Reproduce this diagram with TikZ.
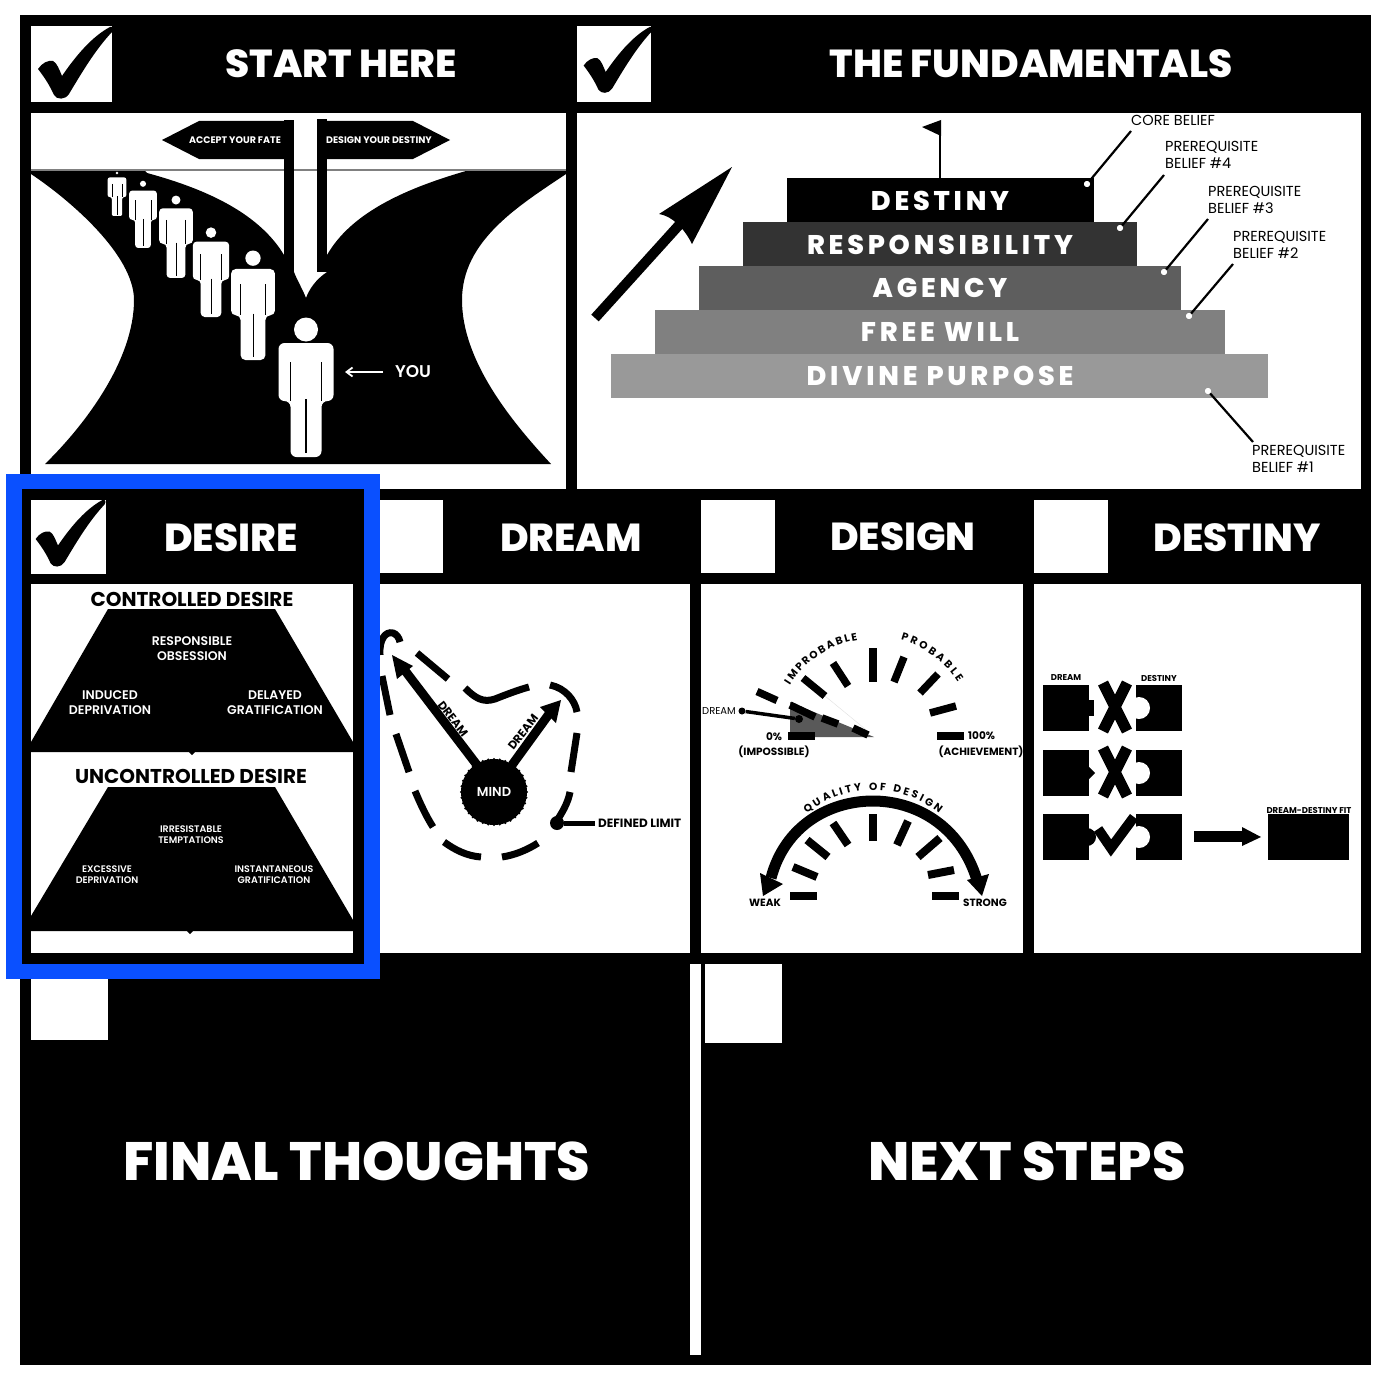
\documentclass[tikz,border=0pt]{standalone}
\usepackage{fontspec}
\usetikzlibrary{decorations.text,arrows.meta}
\setmainfont{Poppins}
\newfontfamily\popx{Poppins ExtraBold}
\newfontfamily\pops{Poppins SemiBold}
\newfontfamily\popb{Poppins}[UprightFont=* Bold]
\newfontfamily\popw{Poppins ExtraBold}[LetterSpace=14]
\definecolor{bluef}{HTML}{0A50FF}
\tikzset{
 wh/.style={fill=white,draw=none},
 bk/.style={fill=black,draw=none},
 headtxt/.style={text=white,font=\popx\fontsize{39}{39}\selectfont,inner sep=0pt},
 bigtxt/.style={text=white,font=\popx\fontsize{54}{54}\selectfont,inner sep=0pt},
 steptxt/.style={text=white,font=\popw\fontsize{27}{27}\selectfont,inner sep=0pt},
 thin lbl/.style={text=black,font=\fontsize{14.5}{17.5}\selectfont,inner sep=0pt,anchor=north west,align=left},
 lead/.style={draw=black,line width=2.2pt},
 leaddot/.style={fill=white,draw=none,circle,minimum size=6pt,inner sep=0pt},
 wsub/.style={text=white,font=\pops\fontsize{12.5}{15}\selectfont,inner sep=0pt,align=center},
 wsmall/.style={text=white,font=\pops\fontsize{9.5}{11}\selectfont,inner sep=0pt,align=center},
 btitle/.style={text=black,font=\popb\fontsize{20}{20}\selectfont,inner sep=0pt},
 blab/.style={text=black,font=\popb\fontsize{10.5}{11}\selectfont,inner sep=0pt},
 tick/.style={draw=black,line width=8pt},
 loopd/.style={draw=black,line width=7pt},
}
\newcommand{\checkmk}[3]{%
 \begin{scope}[shift={(#1,#2)},scale=#3]
  \fill[black] (5,43) .. controls (9,37) and (15,34) .. (20,35) .. controls (24,37) and (26,43) .. (29,50)
   .. controls (44,28) and (60,10) .. (77,1) .. controls (80,0) and (81,3) .. (79,6)
   .. controls (62,24) and (48,48) .. (36,68) .. controls (32,74) and (24,74) .. (21,69)
   .. controls (17,60) and (12,52) .. (5,43) -- cycle;
 \end{scope}}
\newcommand{\persona}[3]{%
 \pgfmathsetmacro\sc{#3/139}\pgfmathsetmacro\rr{6*\sc}\pgfmathsetmacro\lw{1.1*\sc}
 \begin{scope}[shift={(#1,#2)},scale=\sc]
  \fill[white] (0pt,11.5) circle[radius=12*\sc pt];
  \fill[white,rounded corners=\rr pt] (-27.5,25) -- (-27.5,83) -- (-15.5,83) -- (-15.5,139) -- (15.5,139) -- (15.5,83) -- (27.5,83) -- (27.5,25) -- cycle;
  \draw[black,line width=\lw pt] (-15.5,44) -- (-15.5,83) (15.5,44) -- (15.5,83) (0,81) -- (0,135);
 \end{scope}}
\begin{document}
\begin{tikzpicture}[x=1pt,y=-1pt]
\useasboundingbox (0,0) rectangle (1386,1386);
\fill[white] (0,0) rectangle (1386,1386);
\fill[black] (20,15) rectangle (1371,1365);
% top row
\fill[wh] (31,26) rectangle (112,102);
\fill[wh] (577,26) rectangle (651,102);
\fill[wh] (31,113) rectangle (566,489);
\fill[wh] (577,113) rectangle (1361,489);
\checkmk{33}{26}{1}
\checkmk{579}{26}{0.92}
\node[headtxt] (t1) at (341,64) {START HERE};
\node[headtxt] (t2) at (1031,64) {THE FUNDAMENTALS};
% road
\draw[gray,line width=1.2pt] (31,170) -- (566,170);
\fill[black] (31,174) .. controls (70,200) and (134,255) .. (134,300) .. controls (134,360) and (85,425) .. (45,464)
 -- (551,464) .. controls (510,420) and (462,360) .. (462,300) .. controls (462,240) and (520,205) .. (566,174)
 -- (566,171) -- (466,171) .. controls (400,190) and (350,215) .. (327,255) -- (327,272) .. controls (315,280) and (309,290) .. (306,298)
 .. controls (303,290) and (297,280) .. (294,272) -- (284,255) .. controls (260,215) and (210,190) .. (147,173) -- (145,171) -- (31,171) -- cycle;
\fill[black] (284,120) rectangle (294,272);
\fill[black] (317,119) rectangle (327,272);
\fill[bk] (162,140) -- (199,121) -- (284,121) -- (284,159) -- (199,159) -- cycle;
\fill[bk] (327,121) -- (413,121) -- (450,140) -- (413,159) -- (327,159) -- cycle;
\node[text=white,font=\popb\fontsize{9.5}{10}\selectfont,inner sep=0pt] (s1) at (235,140) {ACCEPT YOUR FATE};
\node[text=white,font=\popb\fontsize{9.5}{10}\selectfont,inner sep=0pt] (s2) at (379,140) {DESIGN YOUR DESTINY};
\persona{117}{169}{47}
\persona{143}{178}{70}
\persona{176}{193}{85}
\persona{211}{225}{92}
\persona{253}{249}{111}
\persona{306}{318}{139}
\node[text=white,font=\pops\fontsize{17}{17}\selectfont,inner sep=0pt] (you) at (413,372) {YOU};
\coordinate (youtail) at (383,372);
\coordinate (youtip) at (345,372);
\draw[white,line width=1.8pt,-{Straight Barb[length=6pt,width=9pt]}] (youtail) -- (youtip);
% fundamentals
\draw[black,line width=2.5pt] (940,122) -- (940,178);
\fill[black] (941,120) -- (922,127) -- (941,136) -- cycle;
\fill[black] (787,178) rectangle (1094,222);
\fill[black!80] (743,222) rectangle (1137,266);
\fill[black!63] (699,266) rectangle (1181,310);
\fill[black!50] (655,310) rectangle (1225,354);
\fill[black!40] (611,354) rectangle (1268,398);
\node[steptxt] (f1) at (940,201) {DESTINY};
\node[steptxt] (f2) at (940,245) {RESPONSIBILITY};
\node[steptxt] (f3) at (940,288) {AGENCY};
\node[steptxt] (f4) at (940,332) {FREE WILL};
\node[steptxt] (f5) at (940,376) {DIVINE PURPOSE};
\draw[black,line width=10pt] (595,318) -- (680,224);
\fill[black] (732,167) -- (659,214) .. controls (672,216) and (684,228) .. (692,244) -- cycle;
\node[leaddot] (d1) at (1087,184) {};
\node[leaddot] (d2) at (1120,228) {};
\node[leaddot] (d3) at (1164,272) {};
\node[leaddot] (d4) at (1189,316) {};
\node[leaddot] (d5) at (1208,391) {};
\node[thin lbl] (l1) at (1131,115) {CORE BELIEF};
\node[thin lbl] (l2) at (1165,141) {PREREQUISITE\\BELIEF \#4};
\node[thin lbl] (l3) at (1208,186) {PREREQUISITE\\BELIEF \#3};
\node[thin lbl] (l4) at (1233,231) {PREREQUISITE\\BELIEF \#2};
\node[thin lbl] (l5) at (1252,445) {PREREQUISITE\\BELIEF \#1};
\coordinate (e1) at (1131,131);\coordinate (e2) at (1164,175);\coordinate (e3) at (1208,219);\coordinate (e4) at (1233,264);\coordinate (e5) at (1253,442);
\draw[lead] (d1) -- (e1); \draw[lead] (d2) -- (e2); \draw[lead] (d3) -- (e3); \draw[lead] (d4) -- (e4); \draw[lead] (d5) -- (e5);
\node[leaddot] at (1087,184) {};\node[leaddot] at (1120,228) {};\node[leaddot] at (1164,272) {};\node[leaddot] at (1189,316) {};\node[leaddot] at (1208,391) {};
% row 2 boxes and panels
\fill[wh] (370,500) rectangle (443,573);
\fill[wh] (701,500) rectangle (775,573);
\fill[wh] (1034,500) rectangle (1108,573);
\fill[wh] (370,584) rectangle (690,953);
\fill[wh] (701,584) rectangle (1023,953);
\fill[wh] (1034,584) rectangle (1361,953);
\node[headtxt] (t4) at (571,538) {DREAM};
\node[headtxt] (t5) at (903,537) {DESIGN};
\node[headtxt] (t6) at (1237,538) {DESTINY};
% dream panel
\draw[loopd] (380,655) .. controls (379,640) and (385,631) .. (393,633) .. controls (396,634) and (399,637) .. (400,642);
\draw[loopd] (417,653) -- (448,679);
\draw[loopd] (465,688) .. controls (475,698) and (483,703) .. (495,699) .. controls (505,695) and (518,690) .. (529,687);
\draw[loopd] (550,685) .. controls (565,688) and (575,700) .. (577,712);
\draw[loopd] (577,733) -- (571,772);
\draw[loopd] (570,792) .. controls (568,803) and (562,813) .. (556,822);
\draw[loopd] (538,843) .. controls (527,850) and (515,855) .. (502,857);
\draw[loopd] (481,857) .. controls (467,856) and (455,850) .. (444,842);
\draw[loopd] (433,827) .. controls (426,816) and (420,803) .. (415,791);
\draw[loopd] (409,772) -- (396,734);
\draw[loopd] (390,715) -- (382,676);
\node[fill=black,circle,minimum size=14pt,inner sep=0pt] (limdot) at (557,823) {};
\coordinate (limend) at (595,823);
\draw[black,line width=5pt] (limdot) -- (limend);
\node[text=black,font=\popb\fontsize{12}{12}\selectfont,inner sep=0pt,anchor=west] (lim) at (598,823) {DEFINED LIMIT};
\node[fill=black,circle,minimum size=66pt,inner sep=0pt,text=white,font=\pops\fontsize{13}{13}\selectfont] (mind) at (494,792) {MIND};
\foreach \a in {0,10,...,350}{\fill[black] (494,792) ++({33*cos(\a)},{33*sin(\a)}) circle[radius=1.2pt];}
\draw[black,line width=9pt] (477,765) -- (403,668);
\fill[black] (392,655) -- (413,666) -- (397,679) -- cycle;
\draw[black,line width=9pt] (512,765) -- (549,714);
\fill[black] (561,700) -- (540,707) -- (556,723) -- cycle;
\node[text=black,font=\popb\fontsize{11.5}{12}\selectfont,inner sep=0pt,rotate=-52] (dr1) at (453,719) {DREAM};
\node[text=black,font=\popb\fontsize{11.5}{12}\selectfont,inner sep=0pt,rotate=52] (dr2) at (523,732) {DREAM};
% design: upper gauge
\fill[black!65] (790,702) -- (790,737) -- (874,737) -- cycle;
\draw[black!12,line width=.4pt] (825,696) -- (870,733);
\foreach \p/\q in {{788,736}/{815,736},{757,691.5}/{777,700.5},{803,678}/{825,696},{833,663}/{848,686},{873,648}/{873,682},{904,657}/{894,682},{938,674}/{920,693},{956,706}/{930,713},{937,736}/{964,736},{790,705}/{815,717},{822,718}/{838,724},{853,728}/{868,735}}{\draw[black,line width=7.5pt] (\p) -- (\q);}
\path[decorate,decoration={text along path,text align={fit to path},text={|\popb\fontsize{10.5}{11}\selectfont|IMPROBABLE}}] plot[domain=148:99,samples=40] ({873+98*cos(\x)},{737-98*sin(\x)});
\path[decorate,decoration={text along path,text align={fit to path},text={|\popb\fontsize{10.5}{11}\selectfont|PROBABLE}}] plot[domain=74:33,samples=40] ({873+101*cos(\x)},{737-101*sin(\x)});
\node[fill=black,circle,minimum size=7pt,inner sep=0pt] (pa) at (742,711) {};
\node[fill=black,circle,minimum size=8pt,inner sep=0pt] (pb) at (799,719) {};
\draw[black,line width=3.5pt] (pa) -- (pb);
\node[text=black,font=\fontsize{10}{10}\selectfont,inner sep=0pt] (dd) at (719,711) {DREAM};
\node[blab] (p0) at (774,737) {0\%};
\node[blab] (imp) at (774,752) {(IMPOSSIBLE)};
\node[blab,anchor=west] (p100) at (968,736) {100\%};
\node[blab] (ach) at (981,752) {(ACHIEVEMENT)};
% design: lower gauge
\foreach \p/\q in {{790,896}/{817,896},{793,867}/{817,877},{807,840}/{828,857},{833,823}/{848,845},{873,814}/{873,841},{908,821}/{897,845},{940,838}/{918,857},{954,870}/{928,875},{932,896}/{959,896}}{\draw[black,line width=8pt] (\p) -- (\q);}
\draw[black,line width=11pt] (771,878) .. controls (785,825) and (830,801) .. (873,801) .. controls (915,801) and (960,825) .. (977,880);
\fill[black] (763,896) -- (760,873) -- (783,884) -- cycle;
\fill[black] (982,896) -- (989,874) -- (967,880) -- cycle;
\path[decorate,decoration={text along path,text align={fit to path},text={|\popb\fontsize{10.5}{11}\selectfont|QUALITY OF DESIGN}}] plot[domain=129:51,samples=50] ({873+105*cos(\x)},{895-105*sin(\x)});
\node[blab] (wk) at (765,903) {WEAK};
\node[blab] (st) at (985,903) {STRONG};
% destiny panel
\newcommand{\pz}[1]{%
 \fill[black] (1043,#1-23) rectangle (1089,#1+23);
 \fill[black] (1136,#1-23) rectangle (1182,#1+23);
 \fill[white] (1139,#1) circle[radius=11pt];}
\pz{708}\pz{773}\pz{837}
\fill[black] (1089,700) rectangle (1094,716);
\fill[black] (1089,767) -- (1095,773) -- (1089,779) -- cycle;
\fill[black] (1087,837) circle[radius=9pt];
\draw[black,line width=11pt] (1103,683) -- (1127,731) (1127,683) -- (1103,731);
\draw[black,line width=11pt] (1103,748) -- (1127,796) (1127,748) -- (1103,796);
\draw[black,line width=10pt,miter limit=10] (1098,829) -- (1111,848) -- (1134,817);
\fill[black] (1194,831) rectangle (1242,842);
\fill[black] (1242,827) -- (1261,837) -- (1242,846) -- cycle;
\fill[black] (1268,814) rectangle (1349,860);
\node[text=black,font=\popb\fontsize{8.5}{9}\selectfont,inner sep=0pt] (z1) at (1066,678) {DREAM};
\node[text=black,font=\popb\fontsize{8.5}{9}\selectfont,inner sep=0pt] (z2) at (1159,678) {DESTINY};
\node[text=black,font=\popb\fontsize{8.5}{9}\selectfont,inner sep=0pt] (z3) at (1309,810) {DREAM-DESTINY FIT};
% blue frame & desire
\fill[bluef] (6,474) rectangle (380,979);
\fill[black] (22,489) rectangle (364,964);
\fill[wh] (31,500) rectangle (106,574);
\checkmk{31}{499}{0.93}
\fill[wh] (31,584) rectangle (353,953);
\node[headtxt] (t3) at (231,538) {DESIRE};
\node[btitle] (c1) at (192,599) {CONTROLLED DESIRE};
\node[btitle] (c2) at (191,776) {UNCONTROLLED DESIRE};
\fill[black] (108,609) -- (275,609) -- (353,742) -- (353,752) -- (195,752) -- (192,755) -- (189,752) -- (31,752) -- (31,742) -- cycle;
\fill[black] (108,787) -- (275,787) -- (353,920) -- (353,931) -- (193,931) -- (190,934) -- (187,931) -- (31,931) -- (31,916) -- cycle;
\node[wsub] (r1) at (192,648.5) {RESPONSIBLE\\OBSESSION};
\node[wsub] (r2) at (110,702.5) {INDUCED\\DEPRIVATION};
\node[wsub] (r3) at (275,702.5) {DELAYED\\GRATIFICATION};
\node[wsmall] (u1) at (191,834.5) {IRRESISTABLE\\TEMPTATIONS};
\node[wsmall] (u2) at (107,874.5) {EXCESSIVE\\DEPRIVATION};
\node[wsmall] (u3) at (274,874.5) {INSTANTANEOUS\\GRATIFICATION};
% bottom
\fill[wh] (31,979) rectangle (108,1040);
\fill[wh] (690,964) rectangle (701,1355);
\fill[wh] (705,964) rectangle (782,1043);
\node[bigtxt] (b1) at (357,1161) {FINAL THOUGHTS};
\node[bigtxt] (b2) at (1027,1161) {NEXT STEPS};
\end{tikzpicture}
\end{document}
